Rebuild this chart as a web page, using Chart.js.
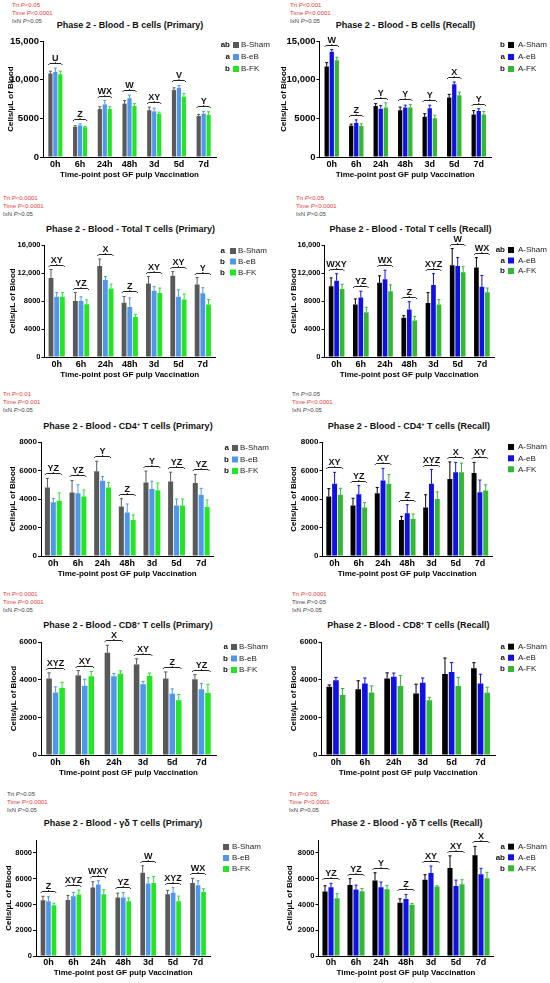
<!DOCTYPE html>
<html>
<head>
<meta charset="utf-8">
<script src="https://cdn.jsdelivr.net/npm/chart.js@4.4.0/dist/chart.umd.min.js"></script>
<style>
  body { margin: 0; background: #fff; font-family: 'Liberation Sans', Arial, sans-serif; }
  #page { position: relative; width: 550px; height: 983px; overflow: hidden; }
  .stat { position: absolute; font-size: 6px; line-height: 8px; white-space: nowrap; color: #444; }
  .stat.sig { color: #e2403a; }
  .title { position: absolute; font-size: 9px; font-weight: bold; white-space: nowrap; transform: translate(-50%, -50%); color: #111; }
  .title sup { font-size: 5.5px; vertical-align: baseline; position: relative; top: -3.5px; }
  canvas { position: absolute; }
</style>
</head>
<body>
<div id="page"></div>
<script>
// categories
const timePoints = ['0h', '6h', '24h', '48h', '3d', '5d', '7d'];
const timePointsCd8 = ['0h', '6h', '24h', '3d', '5d', '7d'];
const primaryGroups = ['B-Sham', 'B-eB', 'B-FK'];
const recallGroups = ['A-Sham', 'A-eB', 'A-FK'];

// y-axis ticks
const ticksBcell = [0, 5000, 10000, 15000];
const ticksTotalT = [0, 4000, 8000, 12000, 16000];
const ticksCd4 = [0, 2000, 4000, 6000, 8000];
const ticksCd8 = [0, 2000, 4000, 6000];
const ticksGd = [0, 2000, 4000, 6000, 8000];

// B cells (Primary)
const bcPriSham = [10800, 3900, 6200, 6900, 6050, 8650, 5300];
const bcPriEb   = [11000, 4100, 6800, 7600, 5900, 8950, 5600];
const bcPriFk   = [10700, 3850, 6200, 6600, 5600, 7800, 5450];
const bcPriShamSem = [300, 150, 300, 400, 400, 300, 200];
const bcPriEbSem   = [500, 200, 500, 400, 400, 300, 300];
const bcPriFkSem   = [400, 100, 300, 300, 200, 400, 400];
const bcPriLetters = ['U', 'Z', 'WX', 'W', 'XY', 'V', 'Y'];
const bcPriLegend = ['ab', 'a', 'b'];
const bcPriStats = ['Trt P<0.05', 'Time P<0.0001', 'IxN P>0.05'];

// B cells (Recall)
const bcRecSham = [11700, 4050, 6600, 6050, 5200, 7700, 5500];
const bcRecEb   = [13600, 4400, 6250, 6400, 6300, 9400, 5950];
const bcRecFk   = [12500, 4000, 6400, 6400, 5000, 8000, 5500];
const bcRecShamSem = [500, 200, 300, 400, 400, 400, 500];
const bcRecEbSem   = [300, 400, 400, 300, 400, 300, 300];
const bcRecFkSem   = [400, 300, 600, 400, 400, 400, 400];
const bcRecLetters = ['W', 'Z', 'Y', 'Y', 'Y', 'X', 'Y'];
const bcRecLegend = ['b', 'a', 'b'];
const bcRecStats = ['Trt P<0.001', 'Time P<0.0001', 'IxN P>0.05'];

// Total T cells (Primary)
const ttPriSham = [11300, 8000, 13000, 7750, 10500, 11600, 10350];
const ttPriEb   = [8600, 8000, 11000, 7150, 9450, 8600, 9100];
const ttPriFk   = [8600, 7550, 9800, 5700, 9150, 8200, 7500];
const ttPriShamSem = [1200, 1200, 1000, 900, 1000, 600, 1000];
const ttPriEbSem   = [600, 600, 500, 1300, 600, 1000, 800];
const ttPriFkSem   = [600, 600, 600, 400, 700, 800, 700];
const ttPriLetters = ['XY', 'YZ', 'X', 'Z', 'XY', 'XY', 'Y'];
const ttPriLegend = ['a', 'b', 'b'];
const ttPriStats = ['Trt P<0.0001', 'Time P<0.0001', 'IxN P>0.05'];

// Total T cells (Recall)
const ttRecSham = [10100, 7500, 10600, 5600, 7700, 13100, 12800];
const ttRecEb   = [10900, 8500, 11100, 6800, 10300, 13000, 10050];
const ttRecFk   = [9700, 6400, 9400, 5200, 7500, 12100, 9250];
const ttRecShamSem = [1200, 800, 1000, 300, 1500, 2400, 1400];
const ttRecEbSem   = [1000, 900, 1300, 1100, 1600, 1200, 1600];
const ttRecFkSem   = [700, 700, 900, 600, 700, 800, 600];
const ttRecLetters = ['WXY', 'YZ', 'WX', 'Z', 'XYZ', 'W', 'WX'];
const ttRecLegend = ['ab', 'a', 'b'];
const ttRecStats = ['Trt P<0.05', 'Time P<0.0001', 'IxN P>0.05'];

// CD4+ T cells (Primary)
const cd4PriSham = [4800, 4450, 5950, 3470, 5160, 5230, 5120];
const cd4PriEb   = [3780, 4400, 5280, 3050, 4700, 3550, 4300];
const cd4PriFk   = [3880, 4180, 4800, 2530, 4620, 3550, 3430];
const cd4PriShamSem = [650, 850, 700, 550, 800, 650, 600];
const cd4PriEbSem   = [250, 600, 300, 600, 550, 450, 450];
const cd4PriFkSem   = [550, 450, 350, 350, 500, 450, 500];
const cd4PriLetters = ['YZ', 'YZ', 'Y', 'Z', 'Y', 'YZ', 'YZ'];
const cd4PriLegend = ['a', 'b', 'b'];
const cd4PriStats = ['Trt P<0.01', 'Time P<0.001', 'IxN P>0.05'];

// CD4+ T cells (Recall)
const cd4RecSham = [4180, 3550, 4410, 2530, 3400, 5400, 5820];
const cd4RecEb   = [5070, 4340, 5300, 3000, 5070, 5870, 4480];
const cd4RecFk   = [4300, 3400, 5070, 2600, 4000, 5870, 4600];
const cd4RecShamSem = [550, 500, 400, 250, 900, 1200, 750];
const cd4RecEbSem   = [800, 600, 850, 600, 1000, 700, 850];
const cd4RecFkSem   = [450, 350, 650, 350, 500, 650, 400];
const cd4RecLetters = ['XY', 'YZ', 'XY', 'Z', 'XYZ', 'X', 'XY'];
const cd4RecStats = ['Trt P>0.05', 'Time P<0.0001', 'IxN P>0.05'];

// CD8+ T cells (Primary)
const cd8PriSham = [4060, 4230, 5430, 4810, 4060, 4020];
const cd8PriEb   = [3320, 3670, 4180, 3760, 3260, 3490];
const cd8PriFk   = [3560, 4180, 4320, 4200, 2910, 3300];
const cd8PriShamSem = [300, 250, 400, 300, 350, 250];
const cd8PriEbSem   = [300, 350, 150, 150, 250, 300];
const cd8PriFkSem   = [300, 250, 150, 150, 300, 450];
const cd8PriLetters = ['XYZ', 'XY', 'X', 'XY', 'Z', 'YZ'];
const cd8PriLegend = ['a', 'b', 'b'];
const cd8PriStats = ['Trt P<0.0001', 'Time P<0.0001', 'IxN P>0.05'];

// CD8+ T cells (Recall)
const cd8RecSham = [3620, 3490, 4060, 3260, 4300, 4600];
const cd8RecEb   = [3970, 3790, 4150, 3840, 4410, 3790];
const cd8RecFk   = [3180, 3320, 3670, 2910, 3670, 3300];
const cd8RecShamSem = [100, 450, 300, 500, 850, 300];
const cd8RecEbSem   = [150, 300, 200, 250, 500, 500];
const cd8RecFkSem   = [350, 350, 550, 150, 450, 300];
const cd8RecLegend = ['a', 'a', 'b'];
const cd8RecStats = ['Trt P<0.0001', 'Time P>0.05', 'IxN P>0.05'];

// γδ T cells (Primary)
const gdPriSham = [4330, 4350, 5310, 4530, 6450, 4790, 5670];
const gdPriEb   = [4250, 4640, 5540, 4530, 5620, 4900, 5490];
const gdPriFk   = [3940, 4770, 4790, 4250, 5670, 4250, 4970];
const gdPriShamSem = [300, 350, 450, 350, 550, 300, 350];
const gdPriEbSem   = [350, 300, 300, 400, 450, 400, 350];
const gdPriFkSem   = [150, 350, 350, 250, 500, 400, 250];
const gdPriLetters = ['Z', 'XYZ', 'WXY', 'YZ', 'W', 'XYZ', 'WX'];
const gdPriStats = ['Trt P>0.05', 'Time P<0.0001', 'IxN P>0.05'];

// γδ T cells (Recall)
const gdRecSham = [5000, 5500, 5860, 4140, 5910, 6820, 7810];
const gdRecEb   = [5340, 5150, 5340, 4430, 6430, 5440, 6350];
const gdRecFk   = [4480, 5030, 5180, 3980, 5400, 5570, 6040];
const gdRecShamSem = [450, 500, 600, 300, 400, 950, 700];
const gdRecEbSem   = [300, 350, 400, 350, 550, 450, 450];
const gdRecFkSem   = [350, 200, 300, 100, 50, 350, 450];
const gdRecLetters = ['YZ', 'YZ', 'Y', 'Z', 'XY', 'XY', 'X'];
const gdRecLegend = ['a', 'ab', 'b'];
const gdRecStats = ['Trt P<0.05', 'Time P<0.0001', 'IxN P>0.05'];

const primaryColors = ['#595959', '#4f97ec', '#22e622'];
const recallColors = ['#000000', '#1111e6', '#33b833'];
const FONT = "'Liberation Sans', Arial, sans-serif";
Chart.defaults.font.family = FONT;

// vertical geometry of each figure row (page pixels)
const rows = [
    { top: 41,  zero: 157, xLab: 165, xTitle: 177, statY: 5,   titleY: 25,  tickFont: 9.5 },
    { top: 245, zero: 357, xLab: 365, xTitle: 377, statY: 198, titleY: 229, tickFont: 7.5 },
    { top: 442, zero: 556, xLab: 564, xTitle: 576, statY: 394, titleY: 426, tickFont: 8 },
    { top: 642, zero: 755, xLab: 763, xTitle: 775, statY: 594, titleY: 625, tickFont: 8 },
    { top: 840, zero: 956, xLab: 963, xTitle: 975, statY: 794, titleY: 823, tickFont: 7.5 }
];

const panels = [
    { title: 'Phase 2 - Blood - B cells (Primary)', stats: bcPriStats, labels: timePoints, groups: primaryGroups, colors: primaryColors,
      means: [bcPriSham, bcPriEb, bcPriFk], sems: [bcPriShamSem, bcPriEbSem, bcPriFkSem], letters: bcPriLetters, legendLetters: bcPriLegend,
      ticks: ticksBcell, yMax: 15000, row: 0, col: 0, left: 43, right: 216, titleX: 130, statX: 12, yTitleX: 11, catPct: 0.6,
      legend: { lr: 230, sx: 233, tx: 241, ys: [45, 57, 69] } },
    { title: 'Phase 2 - Blood - B cells (Recall)', stats: bcRecStats, labels: timePoints, groups: recallGroups, colors: recallColors,
      means: [bcRecSham, bcRecEb, bcRecFk], sems: [bcRecShamSem, bcRecEbSem, bcRecFkSem], letters: bcRecLetters, legendLetters: bcRecLegend,
      ticks: ticksBcell, yMax: 15000, row: 0, col: 1, left: 319.5, right: 491, titleX: 405.5, statX: 290, yTitleX: 284, catPct: 0.62,
      legend: { lr: 505, sx: 508, tx: 518, ys: [45, 57, 69] } },
    { title: 'Phase 2 - Blood - Total T cells (Primary)', stats: ttPriStats, labels: timePoints, groups: primaryGroups, colors: primaryColors,
      means: [ttPriSham, ttPriEb, ttPriFk], sems: [ttPriShamSem, ttPriEbSem, ttPriFkSem], letters: ttPriLetters, legendLetters: ttPriLegend,
      ticks: ticksTotalT, yMax: 16000, row: 1, col: 0, left: 44.5, right: 215, titleX: 130.5, statX: 3, yTitleX: 13, catPct: 0.7,
      legend: { lr: 225, sx: 230, tx: 238, ys: [251, 261.5, 272.5] } },
    { title: 'Phase 2 - Blood - Total T cells (Recall)', stats: ttRecStats, labels: timePoints, groups: recallGroups, colors: recallColors,
      means: [ttRecSham, ttRecEb, ttRecFk], sems: [ttRecShamSem, ttRecEbSem, ttRecFkSem], letters: ttRecLetters, legendLetters: ttRecLegend,
      ticks: ticksTotalT, yMax: 16000, row: 1, col: 1, left: 324.5, right: 494, titleX: 410.5, statX: 296, yTitleX: 294, catPct: 0.68,
      legend: { lr: 505, sx: 508, tx: 518, ys: [250, 260.5, 271] } },
    { title: 'Phase 2 - Blood - CD4<sup>+</sup> T cells (Primary)', stats: cd4PriStats, labels: timePoints, groups: primaryGroups, colors: primaryColors,
      means: [cd4PriSham, cd4PriEb, cd4PriFk], sems: [cd4PriShamSem, cd4PriEbSem, cd4PriFkSem], letters: cd4PriLetters, legendLetters: cd4PriLegend,
      ticks: ticksCd4, yMax: 8000, row: 2, col: 0, left: 41, right: 213.5, titleX: 128, statX: 3, yTitleX: 13, catPct: 0.72,
      legend: { lr: 229, sx: 232, tx: 240, ys: [448, 459.5, 471] } },
    { title: 'Phase 2 - Blood - CD4<sup>+</sup> T cells (Recall)', stats: cd4RecStats, labels: timePoints, groups: recallGroups, colors: recallColors,
      means: [cd4RecSham, cd4RecEb, cd4RecFk], sems: [cd4RecShamSem, cd4RecEbSem, cd4RecFkSem], letters: cd4RecLetters, legendLetters: null,
      ticks: ticksCd4, yMax: 8000, row: 2, col: 1, left: 322.5, right: 492, titleX: 408.8, statX: 292, yTitleX: 294, catPct: 0.72,
      legend: { lr: 505, sx: 508, tx: 518, ys: [447, 458.3, 469.3] } },
    { title: 'Phase 2 - Blood - CD8<sup>+</sup> T cells (Primary)', stats: cd8PriStats, labels: timePointsCd8, groups: primaryGroups, colors: primaryColors,
      means: [cd8PriSham, cd8PriEb, cd8PriFk], sems: [cd8PriShamSem, cd8PriEbSem, cd8PriFkSem], letters: cd8PriLetters, legendLetters: cd8PriLegend,
      ticks: ticksCd8, yMax: 6000, row: 3, col: 0, left: 41, right: 216, titleX: 128, statX: 3, yTitleX: 14, catPct: 0.67,
      legend: { lr: 228, sx: 231, tx: 239, ys: [647, 658.5, 670] } },
    { title: 'Phase 2 - Blood - CD8<sup>+</sup> T cells (Recall)', stats: cd8RecStats, labels: timePointsCd8, groups: recallGroups, colors: recallColors,
      means: [cd8RecSham, cd8RecEb, cd8RecFk], sems: [cd8RecShamSem, cd8RecEbSem, cd8RecFkSem], letters: null, legendLetters: cd8RecLegend,
      ticks: ticksCd8, yMax: 6000, row: 3, col: 1, left: 321.5, right: 495, titleX: 408.3, statX: 292, yTitleX: 294, catPct: 0.69,
      legend: { lr: 505, sx: 508, tx: 518, ys: [646.7, 657.7, 669] } },
    { title: 'Phase 2 - Blood - γδ T cells (Primary)', stats: gdPriStats, labels: timePoints, groups: primaryGroups, colors: primaryColors,
      means: [gdPriSham, gdPriEb, gdPriFk], sems: [gdPriShamSem, gdPriEbSem, gdPriFkSem], letters: gdPriLetters, legendLetters: null,
      ticks: ticksGd, yMax: 9000, row: 4, col: 0, left: 36, right: 210.5, titleX: 123, statX: 7, yTitleX: 9, catPct: 0.66,
      legend: { lr: 220, sx: 223, tx: 232, ys: [847, 858, 869] } },
    { title: 'Phase 2 - Blood - γδ T cells (Recall)', stats: gdRecStats, labels: timePoints, groups: recallGroups, colors: recallColors,
      means: [gdRecSham, gdRecEb, gdRecFk], sems: [gdRecShamSem, gdRecEbSem, gdRecFkSem], letters: gdRecLetters, legendLetters: gdRecLegend,
      ticks: ticksGd, yMax: 9000, row: 4, col: 1, left: 318.5, right: 493.5, titleX: 406.7, statX: 289, yTitleX: 290, catPct: 0.72,
      legend: { lr: 505, sx: 508, tx: 518, ys: [846.7, 857.3, 868.3] } }
];

const page = document.getElementById('page');

// 15,000 style for five digit values, plain 5000 otherwise
function fmtTick(v) {
    return v >= 10000 ? String(v).replace(/\B(?=(\d{3})+(?!\d))/g, ',') : String(v);
}

function addText(cls, html, x, y) {
    const d = document.createElement('div');
    d.className = cls;
    d.innerHTML = html;
    d.style.left = x + 'px';
    d.style.top = y + 'px';
    page.appendChild(d);
}

// SEM whiskers, upward only, same colour as the bar
function drawErrorBars(chart, p) {
    const ctx = chart.ctx, y = chart.scales.y;
    ctx.save();
    ctx.lineWidth = 1;
    p.means.forEach(function(m, d) {
        ctx.strokeStyle = p.colors[d];
        chart.getDatasetMeta(d).data.forEach(function(bar, i) {
            const top = y.getPixelForValue(m[i] + p.sems[d][i]);
            const cap = Math.max(1.5, bar.width * 0.3);
            ctx.beginPath();
            ctx.moveTo(bar.x, bar.y);
            ctx.lineTo(bar.x, top);
            ctx.moveTo(bar.x - cap, top);
            ctx.lineTo(bar.x + cap, top);
            ctx.stroke();
        });
    });
    ctx.restore();
}

// time-point letters over a small bracket
function drawLetters(chart, p) {
    if (!p.letters) return;
    const ctx = chart.ctx, y = chart.scales.y;
    const first = chart.getDatasetMeta(0).data;
    const last = chart.getDatasetMeta(p.means.length - 1).data;
    ctx.save();
    ctx.strokeStyle = '#222';
    ctx.lineWidth = 1;
    ctx.fillStyle = '#111';
    ctx.font = 'bold 9px ' + FONT;
    ctx.textAlign = 'center';
    ctx.textBaseline = 'alphabetic';
    p.letters.forEach(function(txt, i) {
        const peak = Math.max.apply(null, p.means.map(function(m, d) { return m[i] + p.sems[d][i]; }));
        const by = Math.round(y.getPixelForValue(peak) - 5) + 0.5;
        const l = first[i].x - first[i].width / 2;
        const r = last[i].x + last[i].width / 2;
        const c = (l + r) / 2;
        ctx.beginPath();
        ctx.moveTo(l, by + 1.5);
        ctx.lineTo(l + 1.5, by);
        ctx.lineTo(r - 1.5, by);
        ctx.lineTo(r, by + 1.5);
        ctx.moveTo(c, by);
        ctx.lineTo(c, by - 1.5);
        ctx.stroke();
        ctx.fillText(txt, c, by - 3);
    });
    ctx.restore();
}

// legend on the right with the treatment letters
function drawLegend(chart, p, x0, y0) {
    const ctx = chart.ctx, L = p.legend;
    ctx.save();
    ctx.textBaseline = 'middle';
    p.groups.forEach(function(g, i) {
        const cy = L.ys[i] - y0;
        if (p.legendLetters) {
            ctx.fillStyle = '#111';
            ctx.font = 'bold 8px ' + FONT;
            ctx.textAlign = 'right';
            ctx.fillText(p.legendLetters[i], L.lr - x0, cy);
        }
        ctx.fillStyle = p.colors[i];
        ctx.fillRect(L.sx - x0, cy - 3, 6, 6);
        ctx.fillStyle = '#222';
        ctx.font = '8px ' + FONT;
        ctx.textAlign = 'left';
        ctx.fillText(g, L.tx - x0, cy);
    });
    ctx.restore();
}

function makePanel(p) {
    const r = rows[p.row];
    const x0 = p.col * 275;
    const y0 = r.top - 22;
    const h = Math.round(r.xTitle + 5 - y0);

    // stats lines and title as page text
    p.stats.forEach(function(s, i) {
        const cls = s.indexOf('<') >= 0 ? 'stat sig' : 'stat';
        const html = s.replace('P', '<i>P</i>').replace('<0', '&lt;0').replace('>0', '&gt;0');
        addText(cls, html, p.statX, r.statY - 4 + i * 8);
    });
    addText('title', p.title, p.titleX, r.titleY);

    const canvas = document.createElement('canvas');
    canvas.width = 275;
    canvas.height = h;
    canvas.style.left = x0 + 'px';
    canvas.style.top = y0 + 'px';
    page.appendChild(canvas);

    new Chart(canvas, {
        type: 'bar',
        data: {
            labels: p.labels,
            datasets: p.means.map(function(m, i) {
                return {
                    label: p.groups[i],
                    data: m,
                    backgroundColor: p.colors[i],
                    borderWidth: 0,
                    categoryPercentage: p.catPct,
                    barPercentage: 0.85
                };
            })
        },
        options: {
            responsive: false,
            animation: false,
            devicePixelRatio: 1,
            layout: { padding: { top: 22, right: x0 + 275 - p.right, bottom: 0, left: 0 } },
            plugins: {
                legend: { display: false },
                tooltip: { enabled: false }
            },
            scales: {
                x: {
                    grid: { display: false, drawTicks: false, tickLength: 0 },
                    border: { color: '#000', width: 1 },
                    ticks: { font: { size: 9, weight: 'bold' }, color: '#000', padding: r.xLab - r.zero - 5.4, maxRotation: 0, autoSkip: false },
                    title: { display: true, text: 'Time-point post GF pulp Vaccination', font: { size: 8, weight: 'bold' }, color: '#000', padding: { top: 0, bottom: 2 } },
                    afterFit: function(s) { s.height = y0 + h - r.zero; }
                },
                y: {
                    min: 0,
                    max: p.yMax,
                    grid: { drawOnChartArea: false, drawTicks: true, tickLength: 3, color: '#000' },
                    border: { color: '#000', width: 1 },
                    ticks: { font: { size: r.tickFont, weight: 'bold' }, color: '#000', padding: 1, callback: fmtTick },
                    afterBuildTicks: function(s) { s.ticks = p.ticks.map(function(v) { return { value: v }; }); },
                    title: { display: true, text: 'Cells/µL of Blood', font: { size: 8, weight: 'bold' }, color: '#000',
                             padding: { top: Math.max(0, p.yTitleX - x0 - 4.8), bottom: 0 } },
                    afterFit: function(s) { s.width = p.left - x0; }
                }
            }
        },
        plugins: [{
            id: 'panelExtras',
            afterDatasetsDraw: function(chart) {
                drawErrorBars(chart, p);
                drawLetters(chart, p);
                drawLegend(chart, p, x0, y0);
            }
        }]
    });
}

panels.forEach(makePanel);
</script>
</body>
</html>
